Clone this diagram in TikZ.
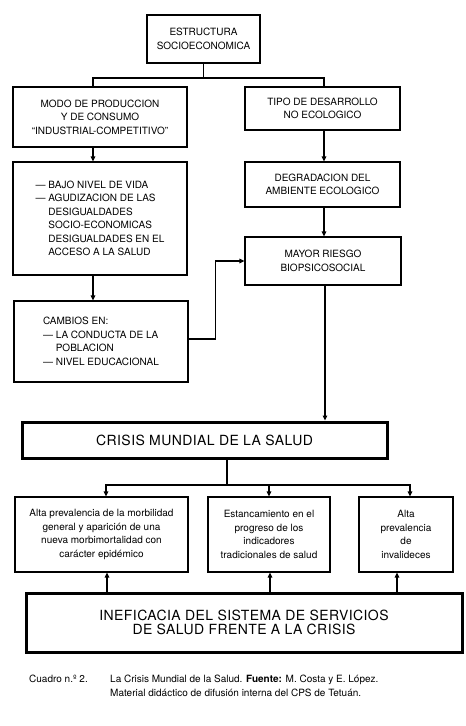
\documentclass[tikz,border=0pt]{standalone}
\usepackage{fontspec}
\setmainfont{TeX Gyre Heros}
\usetikzlibrary{arrows.meta,positioning}

\begin{document}
\begin{tikzpicture}[
  x=1pt,y=-1pt,
  font=\fontsize{10}{13.5}\selectfont,
  >={Triangle[length=5pt,width=4.5pt]},
  box/.style={draw,line width=1.2pt,inner sep=0pt,align=center},
  bigbox/.style={box,line width=3pt,
                 font=\fontsize{14}{14}\selectfont\addfontfeature{LetterSpace=3}},
  link/.style={line width=1.2pt},
  arr/.style={link,->},
]
\useasboundingbox (0,0) rectangle (466,726);

% upper chain
\node[box,minimum width=113,minimum height=48] (estr) at (203.5,39)
     {ESTRUCTURA\\SOCIOECONOMICA};
\node[box,minimum width=174,minimum height=60] (modo) at (100,117)
     {MODO DE PRODUCCION\\Y DE CONSUMO\\``INDUSTRIAL-COMPETITIVO''};
\node[box,minimum width=155,minimum height=43] (tipo) at (322.5,108.5)
     {TIPO DE DESARROLLO\\NO ECOLOGICO};
\node[box,minimum width=174,minimum height=113,align=left] (bajo) at (100,218.5)
     {\textemdash\ BAJO NIVEL DE VIDA\\
      \textemdash\ AGUDIZACION DE LAS\\
      \phantom{\textemdash\ }DESIGUALDADES\\
      \phantom{\textemdash\ }SOCIO-ECONOMICAS\\
      \phantom{\textemdash\ }DESIGUALDADES EN EL\\
      \phantom{\textemdash\ }ACCESO A LA SALUD};
\node[box,minimum width=155,minimum height=45] (degr) at (322.5,184.5)
     {DEGRADACION DEL\\AMBIENTE ECOLOGICO};
\node[box,minimum width=156,minimum height=48] (mayor) at (323,261)
     {MAYOR RIESGO\\BIOPSICOSOCIAL};
\node[box,minimum width=174,minimum height=81,align=left] (cambios) at (101,341.5)
     {CAMBIOS EN:\\
      \textemdash\ LA CONDUCTA DE LA\\
      \phantom{\textemdash\ }POBLACION\\
      \textemdash\ NIVEL EDUCACIONAL};

% crisis and its effects
\node[bigbox,minimum width=365,minimum height=36] (crisis) at (204.5,440)
     {CRISIS MUNDIAL DE LA SALUD};
\node[box,minimum width=173,minimum height=75] (alta) at (101.5,534.5)
     {Alta prevalencia de la morbilidad\\general y aparición de una\\
      nueva morbimortalidad con\\carácter epidémico};
\node[box,minimum width=122,minimum height=75] (estanc) at (269,534.5)
     {Estancamiento en el\\progreso de los\\indicadores\\tradicionales de salud};
\node[box,minimum width=94,minimum height=75] (inval) at (406,534.5)
     {Alta\\prevalencia\\de\\invalideces};
\node[bigbox,minimum width=436,minimum height=59] (inef) at (244,622.5)
     {INEFICACIA DEL SISTEMA DE SERVICIOS\\DE SALUD FRENTE A LA CRISIS};

% caption
\node[anchor=north west,inner sep=0pt] (capnum) at (29,675) {Cuadro n.º 2.};
\node[anchor=north west,inner sep=0pt,align=left] (captext) at (110,675)
     {La Crisis Mundial de la Salud. \textbf{Fuente:} M. Costa y E. López.\\
      Material didáctico de difusión interna del CPS de Tetuán.};

% connectors
\coordinate (topsplit) at (203.5,78);
\coordinate (midsplit) at (227,485);
\draw[link] (estr.south) -- (topsplit);
\draw[link] ([xshift=-7pt]modo.north) |- (topsplit) -| ([xshift=1.5pt]tipo.north);
\draw[arr] ([xshift=-7pt]modo.south) -- ([xshift=-7pt]bajo.north);
\draw[arr] ([xshift=-7pt]bajo.south) -- ([xshift=-7pt]bajo.south |- cambios.north);
\draw[arr] ([xshift=1.5pt]tipo.south) -- ([xshift=1.5pt]degr.north);
\draw[arr] ([xshift=1.5pt]degr.south) -- ([xshift=1pt]mayor.north);
\draw[arr] ([yshift=2.5pt]cambios.east) -- ++(27,0) |- (mayor.west);
\draw[arr] ([xshift=2pt]mayor.south) -- ([xshift=2pt]mayor.south |- crisis.north);

\draw[link] (crisis.south -| midsplit) -- (midsplit);
\draw[arr] (midsplit) -| ([xshift=4.5pt]alta.north);
\draw[arr] (midsplit) -| ([xshift=4pt]inval.north);
\draw[arr] (estanc.north |- midsplit) -- (estanc.north);

\draw[arr] ([xshift=5.5pt]alta.south |- inef.north) -- ([xshift=5.5pt]alta.south);
\draw[arr] ([xshift=1pt]estanc.south |- inef.north) -- ([xshift=1pt]estanc.south);
\draw[arr] ([xshift=-9pt]inval.south |- inef.north) -- ([xshift=-9pt]inval.south);
\end{tikzpicture}
\end{document}
